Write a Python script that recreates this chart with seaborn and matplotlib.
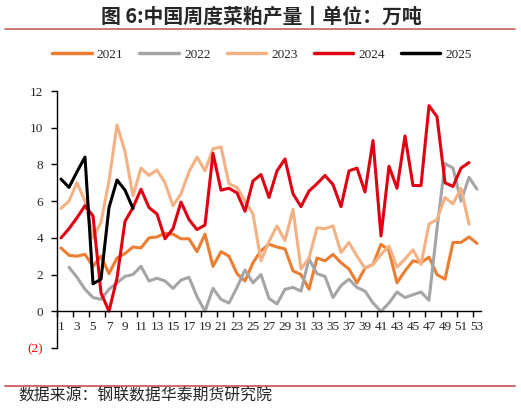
import numpy as np
import pandas as pd
import matplotlib
matplotlib.use("Agg")
import matplotlib.pyplot as plt
from matplotlib.lines import Line2D
from matplotlib.ticker import FuncFormatter
import seaborn as sns

nan = np.nan
weeks = list(range(1, 54))
years = ["2021", "2022", "2023", "2024", "2025"]
colors = ["#ED7D31", "#A5A5A5", "#F4B183", "#E00012", "#000000"]

y2021 = [3.45, 3.05, 3.0, 3.1, 2.45, 3.0, 2.05, 2.9, 3.15, 3.5,
         3.45, 4.0, 4.05, 4.25, 4.2, 3.95, 3.95, 3.25, 4.2, 2.45,
         3.25, 3.0, 2.05, 1.65, 2.65, 3.3, 3.65, 3.5, 3.4, 2.2,
         2.0, 1.2, 2.9, 2.75, 3.1, 2.65, 2.3, 1.55, 2.35, 2.55,
         3.65, 3.3, 1.55, 2.2, 2.75, 2.65, 2.95, 2.0, 1.75, 3.75,
         3.75, 4.05, 3.7]
y2022 = [nan, 2.4, 1.85, 1.2, 0.75, 0.65, 1.2, 1.55, 1.9, 2.0,
         2.45, 1.65, 1.8, 1.65, 1.25, 1.7, 1.85, 0.8, 0.0, 1.25,
         0.65, 0.45, 1.3, 2.25, 1.55, 2.0, 0.7, 0.4, 1.2, 1.3,
         1.1, 2.85, 2.05, 1.9, 0.75, 1.4, 1.75, 1.3, 1.1, 0.45,
         0.0, 0.45, 1.05, 0.75, 0.9, 1.05, 0.6, 4.5, 8.05, 7.8,
         6.0, 7.3, 6.65]
y2023 = [5.6, 6.0, 7.0, 6.0, 4.0, 4.85, 7.1, 10.15, 8.7, 6.3,
         7.8, 7.4, 7.7, 7.0, 5.75, 6.4, 7.6, 8.4, 7.65, 8.85,
         8.95, 6.95, 6.75, 6.0, 5.3, 2.75, 3.8, 4.65, 3.85, 5.55,
         2.3, 2.9, 4.55, 4.5, 4.65, 3.2, 3.75, 3.0, 2.35, 2.55,
         3.1, 3.55, 2.4, 2.85, 3.35, 2.55, 4.75, 5.0, 6.2, 5.85,
         6.7, 4.75, nan]
y2024 = [4.0, 4.5, 5.1, 5.75, 5.2, 1.0, 0.0, 1.8, 4.9, 5.65,
         6.65, 5.65, 5.3, 3.95, 4.5, 5.95, 5.0, 4.45, 4.7, 8.6,
         6.6, 6.7, 6.45, 5.45, 7.1, 7.45, 6.2, 7.65, 8.3, 6.4,
         5.7, 6.55, 6.95, 7.4, 6.9, 5.7, 7.65, 7.8, 6.5, 9.3,
         4.1, 7.9, 6.7, 9.55, 6.85, 6.85, 11.2, 10.6, 7.0, 6.8,
         7.8, 8.1, nan]
y2025 = [7.2, 6.75, 7.6, 8.4, 1.5, 1.75, 5.65, 7.15, 6.6, 5.6] + [nan] * 43

series = [y2021, y2022, y2023, y2024, y2025]
df = pd.concat([pd.DataFrame({"week": weeks, "value": s, "year": y})
                for s, y in zip(series, years)], ignore_index=True)

title_text = "图 6:中国周度菜粕产量丨单位：万吨"
source_text = "数据来源：钢联数据华泰期货研究院"

sns.set_theme(style="white")
plt.rcParams["font.family"] = ["Liberation Serif", "DejaVu Serif"]
cjk = ["Noto Sans CJK SC", "DejaVu Sans"]

W, H = 521, 412
fig = plt.figure(figsize=(W / 100, H / 100), dpi=100)
ax = fig.add_axes([57 / W, 1 - 348 / H, (481 - 57) / W, (348 - 91) / H])

sns.lineplot(data=df, x="week", y="value", hue="year", hue_order=years,
             palette=colors, linewidth=2.2, ax=ax, legend=True,
             sort=False, estimator=None)
for ln in ax.get_lines():
    ln.set_solid_joinstyle("round")
    ln.set_solid_capstyle("round")

ax.set_xlim(0.5, 53.5)
ax.set_ylim(-2, 12)
ax.set_xlabel("")
ax.set_ylabel("")

for side in ["top", "right"]:
    ax.spines[side].set_visible(False)
ax.spines["left"].set_color("black")
ax.spines["left"].set_linewidth(1.0)
ax.spines["bottom"].set_color("black")
ax.spines["bottom"].set_linewidth(1.0)
ax.spines["bottom"].set_position(("data", 0))

ax.set_yticks(list(range(-2, 13, 2)))
ax.yaxis.set_major_formatter(FuncFormatter(
    lambda v, p: f"({abs(int(v))})" if v < 0 else f"{int(v)}"))
ax.tick_params(axis="y", which="major", direction="out", length=4,
               width=1, color="black", labelsize=9.5, pad=6, left=True)

ax.set_xticks([0.5 + 2 * k for k in range(27)])
ax.set_xticklabels([])
ax.set_xticks(weeks[::2], minor=True)
ax.set_xticklabels([str(w) for w in weeks[::2]], minor=True)
ax.tick_params(axis="x", which="major", direction="out", length=4,
               width=1, color="black", bottom=True)
ax.tick_params(axis="x", which="minor", length=0, labelsize=9.5, pad=7,
               bottom=True)
ax.grid(False)

fig.canvas.draw()
for lab in ax.get_yticklabels():
    if lab.get_text().startswith("("):
        lab.set_color("red")

handles, labels = ax.get_legend_handles_labels()
ax.get_legend().remove()
leg = fig.legend(handles, labels, loc="center", bbox_to_anchor=(262 / W, 1 - 55 / H),
                 ncol=5, frameon=False, fontsize=9.5, handlelength=3.0,
                 handletextpad=0.4, columnspacing=1.2)
for h in leg.legend_handles:
    h.set_linewidth(2.5)

fig.text(261 / W, 1 - 16 / H, title_text, ha="center", va="center",
         fontsize=14.3, fontweight="bold", family=cjk)
fig.add_artist(Line2D([5 / W, 515 / W], [1 - 29 / H] * 2, color="#C86060", lw=1.2))
fig.add_artist(Line2D([5 / W, 515 / W], [1 - 386 / H] * 2, color="#C85050", lw=1.2))
fig.text(18 / W, 1 - 396 / H, source_text, ha="left", va="center",
         fontsize=11.4, family=cjk)

fig.savefig("out.png", dpi=100)
